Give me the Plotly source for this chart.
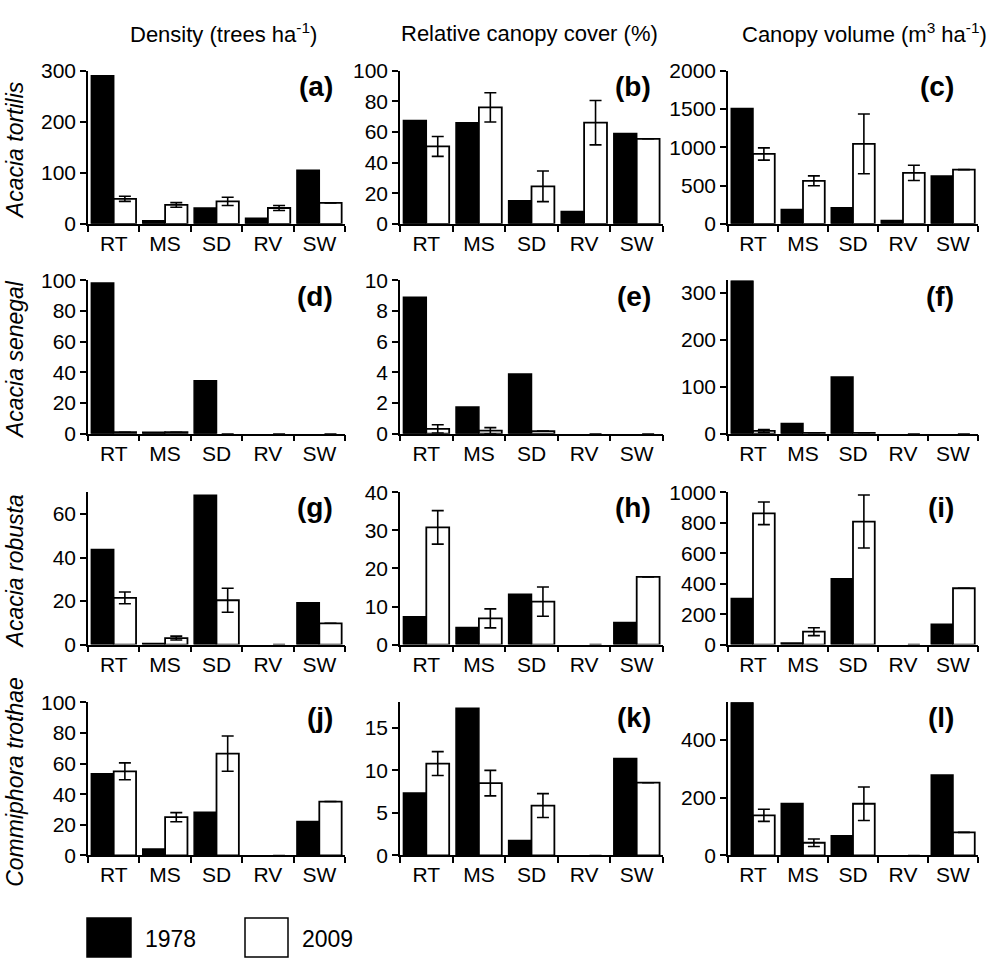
import plotly.graph_objects as go
from plotly.subplots import make_subplots

sites = ["RT", "MS", "SD", "RV", "SW"]
species = ["Acacia tortilis", "Acacia senegal", "Acacia robusta", "Commiphora trothae"]
measures = ["Density (trees ha<sup>-1</sup>)",
            "Relative canopy cover (%)",
            "Canopy volume (m<sup>3</sup> ha<sup>-1</sup>)"]
tags = ["(a)", "(b)", "(c)", "(d)", "(e)", "(f)",
        "(g)", "(h)", "(i)", "(j)", "(k)", "(l)"]

# values; err = error on 2009 bars (None = no bar)
tortilis_density_1978 = [290, 6, 31, 11, 105]
tortilis_density_2009 = [49, 37, 44, 31, 41]
tortilis_density_err = [5, 4.5, 8, 5, None]

tortilis_cover_1978 = [67.5, 66, 15, 8, 59]
tortilis_cover_2009 = [50.5, 76, 24.5, 66, 55.5]
tortilis_cover_err = [6.5, 9.5, 10, 14.5, None]

tortilis_volume_1978 = [1505, 187, 210, 45, 625]
tortilis_volume_2009 = [912, 562, 1043, 665, 708]
tortilis_volume_err = [80, 64, 390, 100, None]

senegal_density_1978 = [98.3, 1, 34.5, 0, 0]
senegal_density_2009 = [1, 1, 0, 0, 0]
senegal_density_err = [None, None, None, None, None]

senegal_cover_1978 = [8.9, 1.75, 3.9, 0, 0]
senegal_cover_2009 = [0.32, 0.2, 0.17, 0, 0]
senegal_cover_err = [0.27, 0.2, None, None, None]

senegal_volume_1978 = [327, 22, 121, 0, 0]
senegal_volume_2009 = [6, 2, 2, 0, 0]
senegal_volume_err = [3, None, None, None, None]

robusta_density_1978 = [43.7, 0.5, 68.6, 0, 19.3]
robusta_density_2009 = [21.5, 3, 20.4, 0, 9.8]
robusta_density_err = [2.7, 0.9, 5.5, None, None]

robusta_cover_1978 = [7.3, 4.5, 13.2, 0, 5.8]
robusta_cover_2009 = [30.8, 6.9, 11.3, 0, 17.8]
robusta_cover_err = [4.4, 2.5, 3.85, None, None]

robusta_volume_1978 = [302, 10, 432, 0, 134]
robusta_volume_2009 = [862, 85, 808, 0, 370]
robusta_volume_err = [74, 26, 174, None, None]

trothae_density_1978 = [53.4, 4.2, 28.2, 0, 22.2]
trothae_density_2009 = [54.9, 25, 66.5, 0, 35.2]
trothae_density_err = [5.5, 3, 11.5, None, None]

trothae_cover_1978 = [7.35, 17.3, 1.75, 0, 11.4]
trothae_cover_2009 = [10.8, 8.5, 5.86, 0, 8.55]
trothae_cover_err = [1.4, 1.5, 1.4, None, None]

trothae_volume_1978 = [531, 180, 68, 0, 278]
trothae_volume_2009 = [139, 44, 179, 0, 80]
trothae_volume_err = [21, 13, 58, None, None]

# y axis top and tick labels per panel
y_tops = [300, 100, 2000, 100, 10, 327, 70, 40, 1000, 100, 18, 530]
y_ticks = [[0, 100, 200, 300], [0, 20, 40, 60, 80, 100], [0, 500, 1000, 1500, 2000],
           [0, 20, 40, 60, 80, 100], [0, 2, 4, 6, 8, 10], [0, 100, 200, 300],
           [0, 20, 40, 60], [0, 10, 20, 30, 40], [0, 200, 400, 600, 800, 1000],
           [0, 20, 40, 60, 80, 100], [0, 5, 10, 15], [0, 200, 400]]

panels = [
    (tortilis_density_1978, tortilis_density_2009, tortilis_density_err),
    (tortilis_cover_1978, tortilis_cover_2009, tortilis_cover_err),
    (tortilis_volume_1978, tortilis_volume_2009, tortilis_volume_err),
    (senegal_density_1978, senegal_density_2009, senegal_density_err),
    (senegal_cover_1978, senegal_cover_2009, senegal_cover_err),
    (senegal_volume_1978, senegal_volume_2009, senegal_volume_err),
    (robusta_density_1978, robusta_density_2009, robusta_density_err),
    (robusta_cover_1978, robusta_cover_2009, robusta_cover_err),
    (robusta_volume_1978, robusta_volume_2009, robusta_volume_err),
    (trothae_density_1978, trothae_density_2009, trothae_density_err),
    (trothae_cover_1978, trothae_cover_2009, trothae_cover_err),
    (trothae_volume_1978, trothae_volume_2009, trothae_volume_err),
]

W, H = 1000, 969
FONT = "Liberation Sans, Arial, Helvetica, sans-serif"


def px(x):
    return x / W


def py(y):
    return 1 - y / H


col_px = [(88, 345), (400, 663), (728, 978)]
row_px = [(60, 217), (275, 432), (492, 648), (707, 864)]

fig = make_subplots(rows=4, cols=3)

for i, (v78, v09, err) in enumerate(panels):
    r, c = i // 3 + 1, i % 3 + 1
    # no outline on empty bars so nothing sits on the axis
    fig.add_trace(go.Bar(x=sites, y=v78, name="1978", showlegend=False, hoverinfo="skip",
                         marker=dict(color="black",
                                     line=dict(color="black", width=[1.5 if v > 0 else 0 for v in v78]))),
                  row=r, col=c)
    fig.add_trace(go.Bar(x=sites, y=v09, name="2009", showlegend=False, hoverinfo="skip",
                         marker=dict(color="white",
                                     line=dict(color="black", width=[1.8 if v > 0 else 0 for v in v09])),
                         error_y=dict(type="data", array=err, visible=True,
                                      color="black", thickness=1.6, width=6)),
                  row=r, col=c)
    x0, x1 = col_px[c - 1]
    y0, y1 = row_px[r - 1]
    fig.update_xaxes(domain=[px(x0), px(x1)], showline=True, linecolor="black", linewidth=1.5,
                     ticks="outside", tickson="boundaries", ticklen=6, tickwidth=1.5,
                     tickcolor="black", showgrid=False, fixedrange=True,
                     tickfont=dict(size=21, color="black", family=FONT), row=r, col=c)
    fig.update_yaxes(domain=[py(y1), py(y0)], range=[0, y_tops[i]],
                     tickvals=y_ticks[i], showline=True, linecolor="black", linewidth=1.5,
                     ticks="outside", ticklen=6, tickwidth=1.5, tickcolor="black",
                     showgrid=False, zeroline=False, fixedrange=True,
                     tickfont=dict(size=21, color="black", family=FONT), row=r, col=c)
    fig.add_annotation(text="<b>" + tags[i] + "</b>", xref="paper", yref="paper",
                       x=px(x1 - 10 if c < 3 else x1 - 22), y=py(y0 + 16),
                       xanchor="right", yanchor="middle", showarrow=False,
                       font=dict(size=28, color="black", family=FONT))

title_x = [223, 529, 864]
for t, xc in zip(measures, title_x):
    fig.add_annotation(text=t, xref="paper", yref="paper", x=px(xc), y=py(22),
                       xanchor="center", yanchor="middle", showarrow=False,
                       font=dict(size=22, color="black", family=FONT))

for s, (y0, y1) in zip(species, row_px):
    fig.add_annotation(text="<i>" + s + "</i>", xref="paper", yref="paper",
                       x=px(15), y=py((y0 + y1 + 6) / 2), textangle=-90,
                       xanchor="center", yanchor="middle", showarrow=False,
                       font=dict(size=23, color="black", family=FONT))

# legend boxes
fig.add_shape(type="rect", xref="paper", yref="paper", x0=px(87), x1=px(131),
              y0=py(968), y1=py(928), fillcolor="black", line=dict(color="black", width=1.5))
fig.add_shape(type="rect", xref="paper", yref="paper", x0=px(245), x1=px(288),
              y0=py(968), y1=py(928), fillcolor="white", line=dict(color="black", width=1.5))
for txt, xl in [("1978", 143), ("2009", 300)]:
    fig.add_annotation(text=txt, xref="paper", yref="paper", x=px(xl), y=py(950),
                       xanchor="left", yanchor="middle", showarrow=False,
                       font=dict(size=23, color="black", family=FONT))

fig.update_layout(width=W, height=H, margin=dict(l=0, r=0, t=0, b=0),
                  plot_bgcolor="white", paper_bgcolor="white",
                  barmode="group", bargap=0.13, bargroupgap=0, hovermode=False,
                  font=dict(family=FONT, color="black"))

# drop the default 8px page margin so the figure sits flush in the window
fig.write_html("out.html", config={"displayModeBar": False},
               post_script="document.body.style.margin='0px';")
